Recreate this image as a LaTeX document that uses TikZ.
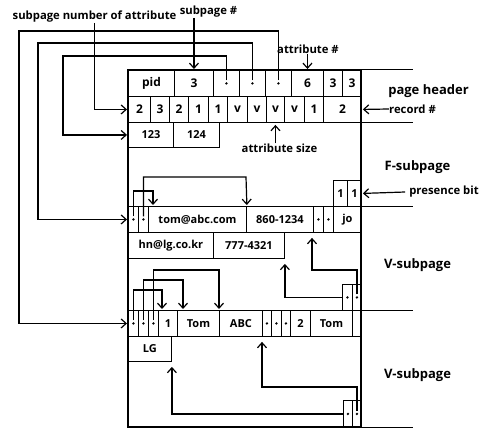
\documentclass[tikz,border=0pt]{standalone}
\usepackage{fontspec}
\setmainfont{Open Sans}
\usetikzlibrary{arrows.meta,calc}
\newcommand\cellbox[6]{%
  \node[cellst, minimum width={#4-#2}, minimum height={#5-#3}, anchor=north west] (#1) at (#2,#3) {#6};}
\newcommand\dotcell[5]{%
  \cellbox{#1}{#2}{#3}{#4}{#5}{}\fill (#1.center) circle (1.3pt);}
\begin{document}
\begin{tikzpicture}[x=1pt,y=-1pt,
  cellst/.style={draw, line width=0.9pt, inner sep=0pt, font=\bfseries\fontsize{11}{13}\selectfont},
  bigcell/.style={font=\bfseries\fontsize{12}{14}\selectfont},
  arr/.style={line width=1.2pt, -{Straight Barb[length=5pt,width=9pt,line width=1.2pt]}, shorten >=1pt},
  uparr/.style={arr, shorten >=5pt},
  lbl/.style={inner sep=0pt, font=\bfseries\fontsize{11.3}{13}\selectfont},
  sec/.style={inner sep=0pt, font=\bfseries\fontsize{13}{15}\selectfont},
  ext/.style={line width=1pt}]
\useasboundingbox (0,0) rectangle (485,428);
% header row 1
\begin{scope}[cellst/.append style={bigcell}]
\cellbox{h1}{128}{70}{174}{96}{pid}
\cellbox{h2}{174}{70}{213}{96}{3}
\dotcell{h3}{213}{70}{239}{96}
\dotcell{h4}{239}{70}{265}{96}
\dotcell{h5}{265}{70}{291}{96}
\cellbox{h6}{291}{70}{323}{96}{6}
\cellbox{h7}{323}{70}{342}{96}{3}
\cellbox{h8}{342}{70}{361}{96}{3}
% header row 2
\cellbox{r1}{128}{96}{150}{122}{2}
\cellbox{r2}{150}{96}{169}{122}{3}
\cellbox{r3}{169}{96}{188}{122}{2}
\cellbox{r4}{188}{96}{208}{122}{1}
\cellbox{r5}{208}{96}{227}{122}{1}
\cellbox{r6}{227}{96}{247}{122}{v}
\cellbox{r7}{247}{96}{266}{122}{v}
\cellbox{r8}{266}{96}{284}{122}{v}
\cellbox{r9}{284}{96}{304}{122}{v}
\cellbox{r10}{304}{96}{323}{122}{1}
\cellbox{r11}{323}{96}{361}{122}{2}
\end{scope}
% row 3
\cellbox{a1}{128}{122}{173}{147}{123}
\cellbox{a2}{173}{122}{219}{147}{124}
% presence bits
\cellbox{p1}{333}{180}{347}{206}{1}
\cellbox{p2}{347}{180}{361}{206}{1}
% F row
\dotcell{f1}{128}{206}{138}{232}
\dotcell{f2}{138}{206}{148}{232}
\cellbox{f3}{148}{206}{246}{232}{tom@abc.com}
\cellbox{f4}{246}{206}{313}{232}{860-1234}
\dotcell{f5}{313}{206}{323}{232}
\dotcell{f6}{323}{206}{333}{232}
\cellbox{f7}{333}{206}{361}{232}{jo}
\cellbox{g1}{128}{232}{213}{258}{hn@lg.co.kr}
\cellbox{g2}{213}{232}{284}{258}{777-4321}
% slots
\dotcell{s1}{342}{284}{352}{310}
\dotcell{s2}{352}{284}{361}{310}
% V row
\dotcell{v1}{128}{310}{138}{336}
\dotcell{v2}{138}{310}{148}{336}
\dotcell{v3}{148}{310}{158}{336}
\cellbox{v4}{158}{310}{177}{336}{1}
\cellbox{v5}{177}{310}{219}{336}{Tom}
\cellbox{v6}{219}{310}{262}{336}{ABC}
\dotcell{v7}{262}{310}{271}{336}
\dotcell{v8}{271}{310}{281}{336}
\dotcell{v9}{281}{310}{290}{336}
\cellbox{v10}{290}{310}{310}{336}{2}
\cellbox{v11}{310}{310}{352}{336}{Tom}
\cellbox{v12}{352}{310}{361}{336}{}
\cellbox{l1}{128}{336}{171}{361}{LG}
\dotcell{t1}{343}{400}{352}{427}
\dotcell{t2}{352}{400}{361}{427}
% outer box and extensions
\draw[line width=1.8pt] (128,70) rectangle (361,427);
\foreach \yy in {70,122,206,310,427} \draw[ext] (361,\yy) -- (413,\yy);
% labels
\node[lbl] (lsna) at (94.5,17) {subpage number of attribute};
\node[lbl] (lsp) at (208.5,12) {subpage \#};
\node[lbl] (lan) at (308,49) {attribute \#};
\node[lbl] (las) at (279.5,148) {attribute size};
\node[sec] (lph) at (428.5,91) {page header};
\node[lbl] (lrec) at (412.5,109) {record \#};
\node[sec] (lfs) at (417.5,167) {F-subpage};
\node[lbl] (lpb) at (444,192) {presence bit};
\node[sec] (lv1) at (417.5,265) {V-subpage};
\node[sec] (lv2) at (417.5,375) {V-subpage};
% label arrows
\draw[arr] (lsna.south) |- (r1.west);
\draw[arr] (lsp.south -| h2.north) -- (h2.north);
\draw[arr] (lan.south -| h6.north) -- (h6.north);
\draw[arr, shorten >=2pt] (las.north -| r8.south) -- (r8.south);
\draw[arr] (lrec.west) -- (r11.east);
\draw[arr] ([xshift=-4pt]lpb.west) -- (p2.east);
% header loops
\coordinate (k1) at (63,56);
\coordinate (k2) at (38,43);
\coordinate (k3) at (19,31);
\draw[arr] ([yshift=3pt]h3.center) |- (k1) |- (a1.west);
\draw[arr] ([yshift=3pt]h4.center) |- (k2) |- (f1.west);
\draw[arr] ([yshift=3pt]h5.center) |- (k3) |- (v1.west);
% F brackets
\coordinate (fb1) at (153,191);
\coordinate (fb2) at (246,177);
\draw[arr] ([yshift=3pt]f1.center) |- (fb1) -- (fb1 |- f3.north);
\draw[arr] ([yshift=3pt]f2.center) |- (fb2) -- (f3.north east);
\coordinate (fr1) at (312,270);
\draw[uparr] ([yshift=3pt]s2.center) |- (fr1) -- (fr1 |- f5.south);
\draw[uparr] (s1.west) -- (s1.west -| g2.south east) -- (g2.south east);
% V brackets
\coordinate (vb1) at (162,290);
\coordinate (vb2) at (183,280);
\coordinate (vb3) at (219,270);
\draw[arr] ([yshift=3pt]v1.center) |- (vb1) -- (vb1 |- v4.north);
\draw[arr] ([yshift=3pt]v2.center) |- (vb2) -- (vb2 |- v5.north);
\draw[arr] ([yshift=3pt]v3.center) |- (vb3) -- (v6.north west);
\coordinate (bb1) at (262,387);
\draw[uparr] ([yshift=3pt]t2.center) |- (bb1) -- (v7.south west);
\draw[uparr] (t1.west) -- (t1.west -| l1.south east) -- (l1.south east);
\end{tikzpicture}
\end{document}
